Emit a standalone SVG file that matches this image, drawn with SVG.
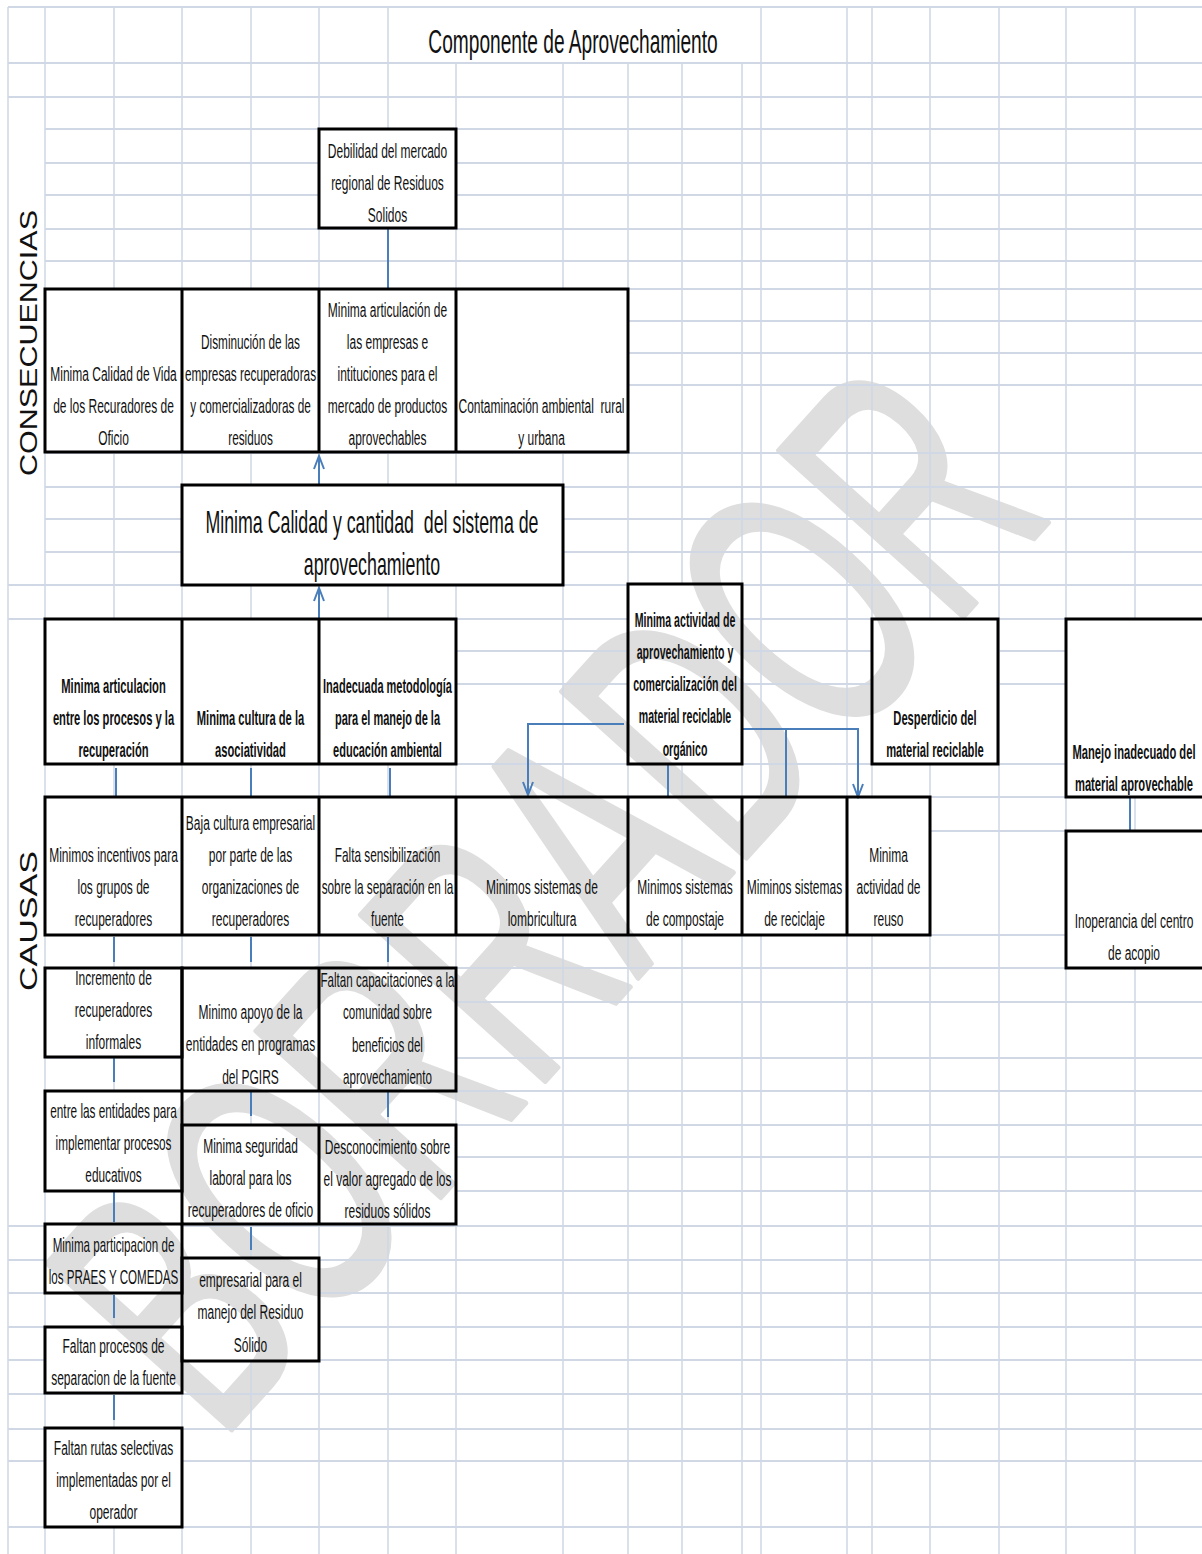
<svg xmlns="http://www.w3.org/2000/svg" width="1202" height="1554" viewBox="0 0 1202 1554">
<style>
.gh{stroke:#d0d7e5;stroke-width:2;fill:none}
.gv{stroke:#d0d7e5;stroke-width:1.5;fill:none}
.box{fill:none;stroke:#000;stroke-width:3}
.t{font-family:'Liberation Sans',Arial,sans-serif;font-size:20px;text-anchor:middle;fill:#111}
.b{font-family:'Liberation Sans',Arial,sans-serif;font-size:20px;font-weight:bold;text-anchor:middle;fill:#111}
.c{stroke:#4a7ebb;stroke-width:2;fill:none}
.side{font-family:'Liberation Sans',Arial,sans-serif;font-size:24px;text-anchor:middle;fill:#111}
.wm{font-family:'Liberation Sans',Arial,sans-serif;font-size:360px;text-anchor:middle;fill:#dedede;stroke:#dedede;stroke-width:6;stroke-linejoin:round}
</style>
<defs>
<marker id="ar" markerWidth="16" markerHeight="12" refX="14" refY="6" orient="auto" markerUnits="userSpaceOnUse">
<path d="M1,1 L14,6 L1,11" fill="none" stroke="#4a7ebb" stroke-width="2"/>
</marker>
<mask id="gm" maskUnits="userSpaceOnUse" x="0" y="0" width="1202" height="1554">
<rect x="0" y="0" width="1202" height="1554" fill="#fff"/>
<g fill="#000">
<rect x="319" y="129" width="137" height="99"/>
<rect x="45" y="289" width="583" height="163"/>
<rect x="182" y="485" width="381" height="100"/>
<rect x="45" y="619" width="411" height="145"/>
<rect x="628" y="584" width="114" height="180"/>
<rect x="872" y="619" width="126" height="145"/>
<rect x="1066" y="619" width="140" height="178"/>
<rect x="45" y="797" width="885" height="138"/>
<rect x="1066" y="831" width="140" height="137"/>
<rect x="45" y="968" width="137" height="89"/>
<rect x="182" y="968" width="274" height="123"/>
<rect x="45" y="1091" width="137" height="100"/>
<rect x="182" y="1125" width="274" height="99"/>
<rect x="45" y="1224" width="137" height="69"/>
<rect x="182" y="1258" width="137" height="103"/>
<rect x="45" y="1327" width="137" height="66"/>
<rect x="45" y="1428" width="137" height="99"/>
</g>
</mask>
</defs>
<rect x="0" y="0" width="1202" height="1554" fill="#fff"/>

<g id="watermark">
<text class="wm" transform="translate(542,893) rotate(-48)" x="0" y="128" textLength="1250" lengthAdjust="spacingAndGlyphs">BORRADOR</text>
</g>

<g id="grid" mask="url(#gm)">
<path class="gv" d="M8,7V1554 M45,7V1554 M114,7V1554 M182,7V1554 M251,7V1554 M319,7V1554 M388,7V1554 M456,63V1554 M563,63V1554 M628,63V1554 M682,63V1554 M742,63V1554 M761,7V1554 M847,7V1554 M872,7V1554 M930,7V1554 M999,7V1554 M1066,7V1554 M1135,7V1554"/>
<path class="gh" d="M8,7H1202 M8,63H1202 M8,97H1202 M45,129H1202 M45,163H1202 M45,195H1202 M45,229H1202 M45,261H1202 M45,289H1202 M45,321H1202 M45,353H1202 M45,385H1202 M45,453H1202 M45,487H1202 M45,519H1202 M45,552H1202 M8,585H1202 M8,619H1202 M45,651H1202 M45,684H1202 M45,764H1202 M45,797H1202 M45,831H1202 M45,935H1202 M45,968H1202 M45,1002H1202 M45,1058H1202 M45,1091H1202 M45,1125H1202 M45,1157H1202 M45,1191H1202 M8,1226H1202 M8,1260H1202 M8,1293H1202 M8,1327H1202 M8,1360H1202 M8,1394H1202 M8,1429H1202 M8,1461H1202 M8,1527H1202"/>
</g>

<g id="title">
<text class="t" style="font-size:33px" transform="scale(0.58 1)" x="988" y="53">Componente de Aprovechamiento</text>
</g>

<g id="label-consecuencias">
<text class="side" transform="translate(37,343) rotate(-90)" x="0" y="0" textLength="266" lengthAdjust="spacingAndGlyphs">CONSECUENCIAS</text>
</g>
<g id="label-causas">
<text class="side" transform="translate(37,921) rotate(-90)" x="0" y="0" textLength="140" lengthAdjust="spacingAndGlyphs">CAUSAS</text>
</g>

<g id="connectors">
<path class="c" d="M388,228V289"/>
<path class="c" d="M319,485V456" marker-end="url(#ar)"/>
<path class="c" d="M319,619V588" marker-end="url(#ar)"/>
<path class="c" d="M116,768V797 M251,768V797 M390,768V797 M668,764V797"/>
<path class="c" d="M114,937V962 M251,937V962 M388,937V962"/>
<path class="c" d="M114,1058V1082 M251,1092V1116 M388,1092V1117"/>
<path class="c" d="M114,1192V1222 M251,1227V1250"/>
<path class="c" d="M114,1295V1318"/>
<path class="c" d="M114,1395V1420"/>
<path class="c" d="M1130,797V831"/>
<path class="c" d="M624,724H528V795" marker-end="url(#ar)"/>
<path class="c" d="M742,729H858V797" marker-end="url(#ar)"/>
<path class="c" d="M786,729V797"/>
</g>

<g id="n-debilidad">
<rect class="box" x="319" y="129" width="137" height="99"/>
<text class="t" transform="scale(0.6 1)"><tspan x="645.8" y="158">Debilidad del mercado</tspan><tspan x="645.8" y="190">regional de Residuos</tspan><tspan x="645.8" y="222">Solidos</tspan></text>
</g>

<g id="n-consecuencias">
<rect class="box" x="45" y="289" width="583" height="163"/>
<path d="M182,289V452 M319,289V452 M456,289V452" stroke="#000" stroke-width="3"/>
<text class="t" transform="scale(0.6 1)"><tspan x="189.2" y="381">Minima Calidad de Vida</tspan><tspan x="189.2" y="413">de los Recuradores de</tspan><tspan x="189.2" y="445">Oficio</tspan></text>
<text class="t" transform="scale(0.59 1)"><tspan x="424.6" y="349">Disminución de las</tspan><tspan x="424.6" y="381">empresas recuperadoras</tspan><tspan x="424.6" y="413">y comercializadoras de</tspan><tspan x="424.6" y="445">residuos</tspan></text>
<text class="t" transform="scale(0.6 1)"><tspan x="645.8" y="317">Minima articulación de</tspan><tspan x="645.8" y="349">las empresas e</tspan><tspan x="645.8" y="381">intituciones para el</tspan><tspan x="645.8" y="413">mercado de productos</tspan><tspan x="645.8" y="445">aprovechables</tspan></text>
<text class="t" transform="scale(0.6 1)"><tspan x="902.5" y="413">Contaminación ambiental &#160;rural</tspan><tspan x="902.5" y="445">y urbana</tspan></text>
</g>

<g id="n-problema">
<rect class="box" x="182" y="485" width="381" height="100"/>
<text class="t" style="font-size:32px" transform="scale(0.556 1)"><tspan x="669" y="533">Minima Calidad y cantidad &#160;del sistema de</tspan><tspan x="669" y="575">aprovechamiento</tspan></text>
</g>

<g id="n-causas-a">
<rect class="box" x="45" y="619" width="411" height="145"/>
<path d="M182,619V764 M319,619V764" stroke="#000" stroke-width="3"/>
<text class="b" transform="scale(0.56 1)"><tspan x="202.7" y="693">Minima articulacion</tspan><tspan x="202.7" y="725">entre los procesos y la</tspan><tspan x="202.7" y="757">recuperación</tspan></text>
<text class="b" transform="scale(0.56 1)"><tspan x="447.3" y="725">Minima cultura de la</tspan><tspan x="447.3" y="757">asociatividad</tspan></text>
<text class="b" transform="scale(0.55 1)"><tspan x="704.5" y="693">Inadecuada metodología</tspan><tspan x="704.5" y="725">para el manejo de la</tspan><tspan x="704.5" y="757">educación ambiental</tspan></text>
</g>

<g id="n-actividad">
<rect class="box" x="628" y="584" width="114" height="180"/>
<text class="b" transform="scale(0.53 1)"><tspan x="1292.5" y="627">Minima actividad de</tspan><tspan x="1292.5" y="659">aprovechamiento y</tspan><tspan x="1292.5" y="691">comercialización del</tspan><tspan x="1292.5" y="723">material reciclable</tspan><tspan x="1292.5" y="756">orgánico</tspan></text>
</g>

<g id="n-desperdicio">
<rect class="box" x="872" y="619" width="126" height="145"/>
<text class="b" transform="scale(0.56 1)"><tspan x="1669.6" y="725">Desperdicio del</tspan><tspan x="1669.6" y="757">material reciclable</tspan></text>
</g>

<g id="n-manejo">
<rect class="box" x="1066" y="619" width="150" height="178"/>
<text class="b" transform="scale(0.56 1)"><tspan x="2025" y="759">Manejo inadecuado del</tspan><tspan x="2025" y="791">material aprovechable</tspan></text>
</g>

<g id="n-inoperancia">
<rect class="box" x="1066" y="831" width="150" height="137"/>
<text class="t" transform="scale(0.6 1)"><tspan x="1890" y="928">Inoperancia del centro</tspan><tspan x="1890" y="960">de acopio</tspan></text>
</g>

<g id="n-causas-b">
<rect class="box" x="45" y="797" width="885" height="138"/>
<path d="M182,797V935 M319,797V935 M456,797V935 M628,797V935 M742,797V935 M847,797V935" stroke="#000" stroke-width="3"/>
<text class="t" transform="scale(0.6 1)"><tspan x="189.2" y="862">Minimos incentivos para</tspan><tspan x="189.2" y="894">los grupos de</tspan><tspan x="189.2" y="926">recuperadores</tspan></text>
<text class="t" transform="scale(0.6 1)"><tspan x="417.5" y="830">Baja cultura empresarial</tspan><tspan x="417.5" y="862">por parte de las</tspan><tspan x="417.5" y="894">organizaciones de</tspan><tspan x="417.5" y="926">recuperadores</tspan></text>
<text class="t" transform="scale(0.59 1)"><tspan x="656.8" y="862">Falta sensibilización</tspan><tspan x="656.8" y="894">sobre la separación en la</tspan><tspan x="656.8" y="926">fuente</tspan></text>
<text class="t" transform="scale(0.6 1)"><tspan x="903.3" y="894">Minimos sistemas de</tspan><tspan x="903.3" y="926">lombricultura</tspan></text>
<text class="t" transform="scale(0.6 1)"><tspan x="1141.7" y="894">Minimos sistemas</tspan><tspan x="1141.7" y="926">de compostaje</tspan></text>
<text class="t" transform="scale(0.6 1)"><tspan x="1324.2" y="894">Miminos sistemas</tspan><tspan x="1324.2" y="926">de reciclaje</tspan></text>
<text class="t" transform="scale(0.6 1)"><tspan x="1480.8" y="862">Minima</tspan><tspan x="1480.8" y="894">actividad de</tspan><tspan x="1480.8" y="926">reuso</tspan></text>
</g>

<g id="n-incremento">
<rect class="box" x="45" y="968" width="137" height="89"/>
<text class="t" transform="scale(0.6 1)"><tspan x="189.2" y="985">Incremento de</tspan><tspan x="189.2" y="1017">recuperadores</tspan><tspan x="189.2" y="1049">informales</tspan></text>
</g>

<g id="n-apoyo-capacitaciones">
<rect class="box" x="182" y="968" width="274" height="123"/>
<path d="M319,968V1091" stroke="#000" stroke-width="3"/>
<text class="t" transform="scale(0.6 1)"><tspan x="417.5" y="1019">Minimo apoyo de la</tspan><tspan x="417.5" y="1051">entidades en programas</tspan><tspan x="417.5" y="1084">del PGIRS</tspan></text>
<text class="t" transform="scale(0.58 1)"><tspan x="668.1" y="987">Faltan capacitaciones a la</tspan><tspan x="668.1" y="1019">comunidad sobre</tspan><tspan x="668.1" y="1052">beneficios del</tspan><tspan x="668.1" y="1084">aprovechamiento</tspan></text>
</g>

<g id="n-entidades">
<rect class="box" x="45" y="1091" width="137" height="100"/>
<text class="t" transform="scale(0.59 1)"><tspan x="192.4" y="1118">entre las entidades para</tspan><tspan x="192.4" y="1150">implementar procesos</tspan><tspan x="192.4" y="1182">educativos</tspan></text>
</g>

<g id="n-seguridad-desconocimiento">
<rect class="box" x="182" y="1125" width="274" height="99"/>
<path d="M319,1125V1224" stroke="#000" stroke-width="3"/>
<text class="t" transform="scale(0.6 1)"><tspan x="417.5" y="1153">Minima seguridad</tspan><tspan x="417.5" y="1185">laboral para los</tspan><tspan x="417.5" y="1217">recuperadores de oficio</tspan></text>
<text class="t" transform="scale(0.6 1)"><tspan x="645.8" y="1154">Desconocimiento sobre</tspan><tspan x="645.8" y="1186">el valor agregado de los</tspan><tspan x="645.8" y="1218">residuos sólidos</tspan></text>
</g>

<g id="n-participacion">
<rect class="box" x="45" y="1224" width="137" height="69"/>
<text class="t" transform="scale(0.58 1)"><tspan x="195.7" y="1252">Minima participacion de</tspan><tspan x="195.7" y="1284">los PRAES Y COMEDAS</tspan></text>
</g>

<g id="n-empresarial">
<rect class="box" x="182" y="1258" width="137" height="103"/>
<text class="t" transform="scale(0.6 1)"><tspan x="417.5" y="1287">empresarial para el</tspan><tspan x="417.5" y="1319">manejo del Residuo</tspan><tspan x="417.5" y="1352">Sólido</tspan></text>
</g>

<g id="n-separacion">
<rect class="box" x="45" y="1327" width="137" height="66"/>
<text class="t" transform="scale(0.6 1)"><tspan x="189.2" y="1353">Faltan procesos de</tspan><tspan x="189.2" y="1385">separacion de la fuente</tspan></text>
</g>

<g id="n-rutas">
<rect class="box" x="45" y="1428" width="137" height="99"/>
<text class="t" transform="scale(0.6 1)"><tspan x="189.2" y="1455">Faltan rutas selectivas</tspan><tspan x="189.2" y="1487">implementadas por el</tspan><tspan x="189.2" y="1519">operador</tspan></text>
</g>
</svg>
